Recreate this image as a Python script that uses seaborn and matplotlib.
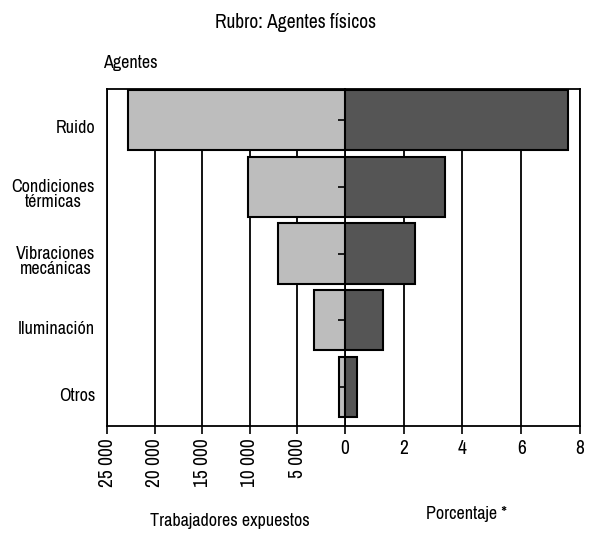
import numpy as np
import pandas as pd
import matplotlib
matplotlib.use('Agg')
import matplotlib.pyplot as plt
import matplotlib.transforms as mtransforms
import seaborn as sns

agentes = ['Ruido', 'Condiciones\ntérmicas', 'Vibraciones\nmecánicas', 'Iluminación', 'Otros']
trabajadores = [22800, 10200, 7000, 3300, 600]
porcentaje = [7.6, 3.4, 2.4, 1.3, 0.4]
ticks_trab = [25000, 20000, 15000, 10000, 5000]
labels_trab = ['25 000', '20 000', '15 000', '10 000', '5 000']
ticks_pct = [0, 2, 4, 6, 8]

sns.set_style('white')
# fuente estrecha si existe, si no Liberation Sans
plt.rcParams['font.family'] = ['Archivo Narrow', 'Liberation Sans', 'DejaVu Sans']
plt.rcParams['font.weight'] = 'medium'
plt.rcParams['text.color'] = 'black'
plt.rcParams['xtick.color'] = 'black'
plt.rcParams['ytick.color'] = 'black'

df = pd.DataFrame({'Agentes': agentes, 'Trabajadores': trabajadores, 'Porcentaje': porcentaje})

fig = plt.figure(figsize=(5.89, 5.34), dpi=100)
ax1 = fig.add_axes([0.1817, 0.2022, 0.4041, 0.6311])
ax2 = fig.add_axes([0.5857, 0.2022, 0.399, 0.6311])

sns.barplot(data=df, x='Trabajadores', y='Agentes', orient='h', color='#bdbdbd',
            saturation=1, edgecolor='black', linewidth=1.5, width=0.9, ax=ax1)
sns.barplot(data=df, x='Porcentaje', y='Agentes', orient='h', color='#555555',
            saturation=1, edgecolor='black', linewidth=1.5, width=0.9, ax=ax2)

for ax in (ax1, ax2):
    ax.set_ylim(4.58, -0.46)
    ax.grid(axis='x', color='black', linewidth=1.3)
    ax.set_axisbelow(True)
    for s in ax.spines.values():
        s.set_linewidth(1.3)
        s.set_color('black')
    ax.set_ylabel('')
    ax.set_xlabel('')

# lado izquierdo: trabajadores expuestos
ax1.set_xlim(25000, 0)
ax1.set_xticks(ticks_trab)
ax1.set_xticklabels(labels_trab, rotation=90)
ax1.spines['right'].set_visible(False)
ax1.tick_params(axis='x', bottom=True, length=6, width=1.2, labelsize=14, pad=3)
ax1.tick_params(axis='y', left=False, labelsize=13, pad=5)
off = mtransforms.ScaledTranslation(0, -5 / 72, fig.dpi_scale_trans)
for lbl in ax1.get_yticklabels():
    lbl.set_multialignment('center')
    lbl.set_linespacing(0.95)
    lbl.set_transform(lbl.get_transform() + off)

# lado derecho: porcentaje
ax2.set_xlim(0, 8)
ax2.set_xticks(ticks_pct)
ax2.tick_params(axis='x', bottom=True, length=6, width=1.2, labelsize=14, pad=3)
ax2.tick_params(axis='y', left=True, length=5, width=1.2, labelleft=False)

fig.text(296 / 589, 1 - 23 / 534, 'Rubro: Agentes físicos', ha='center', va='center', fontsize=14)
fig.text(103 / 589, 1 - 63 / 534, 'Agentes', ha='left', va='center', fontsize=13)
fig.text(230 / 589, 1 - 521 / 534, 'Trabajadores expuestos', ha='center', va='center', fontsize=13)
fig.text(467 / 589, 1 - 514 / 534, 'Porcentaje *', ha='center', va='center', fontsize=13)

fig.savefig('out.png', dpi=100)
